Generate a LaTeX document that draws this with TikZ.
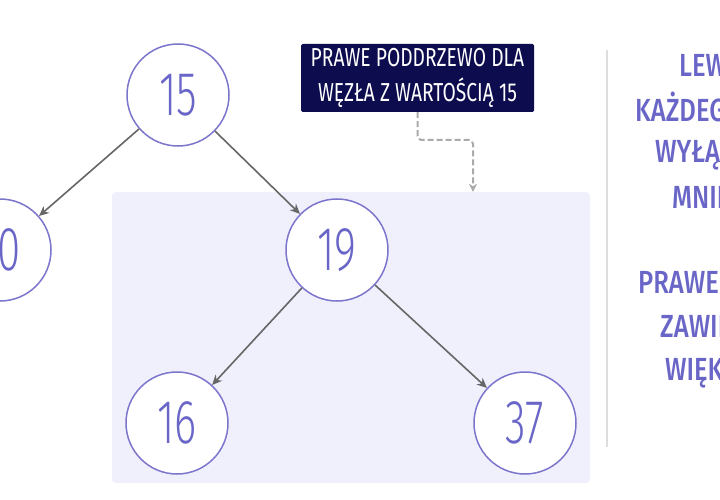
\documentclass[tikz,border=0pt]{standalone}
\usepackage{fontspec}
\setmainfont{Fira Sans}
\newfontfamily\numfont[FakeStretch=0.68]{Fira Sans Light}
\newfontfamily\labfont[FakeStretch=0.74]{Fira Sans}
\newfontfamily\sidefont[FakeStretch=0.8]{Fira Sans Medium}
\usetikzlibrary{arrows.meta}
\definecolor{purp}{HTML}{6A66C8}
\definecolor{circ}{HTML}{7B76CC}
\definecolor{navy}{HTML}{0C0C4E}
\definecolor{shade}{HTML}{F0F0FD}
\definecolor{edge}{HTML}{666666}
\definecolor{dashc}{HTML}{AAAAAA}
\definecolor{vline}{HTML}{DDDDDD}
\begin{document}
\begin{tikzpicture}[x=1pt,y=-1pt,
  treenode/.style={circle,draw=circ,line width=1.5pt,fill=white,minimum size=102pt,inner sep=0pt,
    text=purp,font=\numfont\fontsize{62}{62}\selectfont},
  edgearrow/.style={draw=edge,line width=1.6pt,-{Stealth[length=10pt,width=9pt]}},
  dashconn/.style={draw=dashc,line width=2pt,dash pattern=on 6pt off 3pt,rounded corners=4pt,-{Stealth[length=8pt,width=8pt]}},
  sidetext/.style={anchor=base west,inner sep=0pt,text=purp,font=\sidefont\fontsize{32}{32}\selectfont}]
\useasboundingbox (0,0) rectangle (720,500);
\clip (0,0) rectangle (720,500);
\fill[white] (0,0) rectangle (720,500);
% shaded subtree area
\node (sub) [rectangle,rounded corners=4pt,fill=shade,minimum width=478pt,minimum height=291pt,inner sep=0pt] at (351,337.5) {};
% tree nodes
\node (n15) [treenode] at (178,95) {15};
\node (n10) [treenode] at (0,250) {10};
\node (n19) [treenode] at (337,250) {19};
\node (n16) [treenode] at (177,423) {16};
\node (n37) [treenode] at (525,423) {37};
\draw[edgearrow] (n15) -- (n10);
\draw[edgearrow] (n15) -- (n19);
\draw[edgearrow] (n19) -- (n16);
\draw[edgearrow] (n19) -- (n37);
% label
\node (lab) [rectangle,fill=navy,rounded corners=1.5pt,minimum width=233pt,minimum height=68pt,inner sep=0pt,
  text=white,align=center,font=\labfont\fontsize{26}{34.5}\selectfont] at (417.5,78)
  {PRAWE PODDRZEWO DLA\\WĘZŁA Z WARTOŚCIĄ 15};
\coordinate (d2) at (473,140);
\draw[dashconn] (lab.south) |- (d2) -- (sub.north -| d2);
% divider
\coordinate (v1) at (607,50);
\coordinate (v2) at (607,447);
\draw[vline,line width=2pt] (v1) -- (v2);
% side text
\node (s1) [sidetext] at (679,77) {LEWE};
\node (s2) [sidetext] at (635,122) {KAŻDEGO};
\node (s3) [sidetext] at (655,163) {WYŁĄCZNIE};
\node (s4) [sidetext] at (672,208) {MNIEJSZE};
\node (s5) [sidetext] at (638,293) {PRAWE};
\node (s6) [sidetext] at (660,337) {ZAWIERA};
\node (s7) [sidetext] at (665,380) {WIĘKSZE};
\end{tikzpicture}
\end{document}
